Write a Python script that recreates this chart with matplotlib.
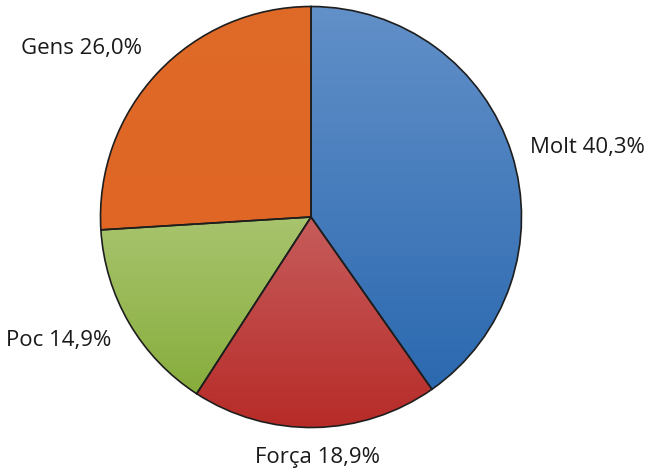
import numpy as np
import matplotlib
matplotlib.use("Agg")
import matplotlib.pyplot as plt
from matplotlib.colors import LinearSegmentedColormap

# Dades
categories = ["Molt", "Força", "Poc", "Gens"]
valors = [40.3, 18.9, 14.9, 26.0]
etiquetes = ["Molt 40,3%", "Força 18,9%", "Poc 14,9%", "Gens 26,0%"]
colors_dalt = ["#6290c8", "#c65d5c", "#a8c46e", "#e06a28"]
colors_baix = ["#2b69b0", "#b72b28", "#87ad3c", "#df6624"]

plt.rcParams['font.family'] = ['Open Sans', 'DejaVu Sans']

fig = plt.figure(figsize=(6.53, 4.72), dpi=100)
ax = fig.add_axes([0, 0, 1, 1])

cx, cy, r = 311.0, 217.0, 210.5

def limits():
    ax.set_xlim(-cx / r, (653 - cx) / r)
    ax.set_ylim(-(472 - cy) / r, cy / r)

wedges, _ = ax.pie(valors, startangle=90, counterclock=False, radius=1.0,
                   wedgeprops=dict(facecolor='none', edgecolor='#1e1e1e', linewidth=1.2))
ax.set_aspect('auto')
ax.axis('off')

# degradat vertical dins de cada porció
for w, c0, c1 in zip(wedges, colors_dalt, colors_baix):
    cmap = LinearSegmentedColormap.from_list('g', [c1, c0])
    verts = w.get_path().vertices
    ymin, ymax = verts[:, 1].min(), verts[:, 1].max()
    grad = np.linspace(0, 1, 256).reshape(-1, 1)
    im = ax.imshow(grad, cmap=cmap, origin='lower', aspect='auto',
                   extent=(-1.01, 1.01, ymin, ymax), zorder=0.5)
    im.set_clip_path(w)
    w.set_zorder(1)
limits()

# Etiquetes (distància radial i petit desplaçament vertical)
distancies = [1.09, 1.145, 1.10, 1.10]
desp_y = [0.0, 0.0, -0.03, 0.045]
alineacions = ['left', 'center', 'right', 'right']
for w, txt, d, dy, ha in zip(wedges, etiquetes, distancies, desp_y, alineacions):
    ang = np.deg2rad((w.theta1 + w.theta2) / 2)
    x, y = d * np.cos(ang), d * np.sin(ang) + dy
    if ha == 'center':
        x = 0.033
    ax.text(x, y, txt, ha=ha, va='center', fontsize=16, color='#1a1a1a')

fig.savefig("out.png", dpi=100)
